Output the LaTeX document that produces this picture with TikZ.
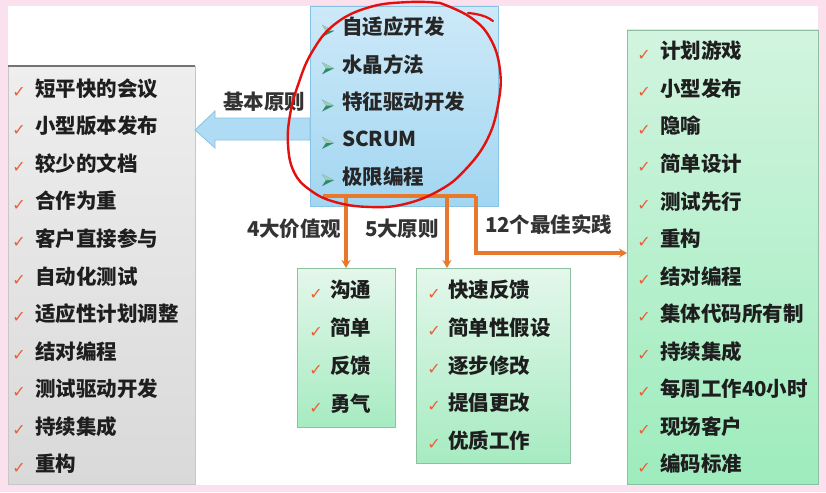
\documentclass[tikz,border=0pt]{standalone}
\usepackage{fontspec}
\setmainfont{Noto Sans CJK SC}
\newfontfamily\symfont{DejaVu Sans}
\usetikzlibrary{arrows.meta}
\definecolor{pinkbg}{HTML}{FBE1EE}
\definecolor{txt}{HTML}{1E1E1E}
\definecolor{chkc}{HTML}{E8603A}
\definecolor{orangec}{HTML}{E8782C}
\definecolor{redc}{HTML}{E31010}
\definecolor{bulletc}{HTML}{2E8A68}
\definecolor{blueT}{HTML}{CDE9F8}
\definecolor{blueB}{HTML}{A2D6F1}
\definecolor{blueD}{HTML}{86C3E4}
\definecolor{arrowF}{HTML}{AFDCF4}
\definecolor{greenT}{HTML}{E4F7EB}
\definecolor{greenB}{HTML}{A6EBC1}
\definecolor{greenD}{HTML}{8DBFA0}
\definecolor{rgreenT}{HTML}{D2F4DF}
\definecolor{rgreenB}{HTML}{9EECBD}
\definecolor{grayT}{HTML}{EEEEEE}
\definecolor{grayB}{HTML}{D9D9D9}
\begin{document}
\begin{tikzpicture}[x=1pt,y=-1pt,
  every node/.style={outer sep=0pt},
  item/.style={anchor=west, inner sep=0pt, text=txt,
    font=\fontsize{20.5}{24}\selectfont\bfseries, text height=0.9em, text depth=0.14em},
  lbl/.style={item, text=black!80},
  chk/.style={inner sep=0pt, text=chkc, font=\symfont\fontsize{16}{16}\selectfont},
  graybox/.style={anchor=north west, draw=black!22, top color=grayT, bottom color=grayB, inner sep=0pt},
  bluebox/.style={anchor=north west, draw=blueD, top color=blueT, bottom color=blueB, inner sep=0pt},
  greenbox/.style={anchor=north west, draw=greenD, top color=greenT, bottom color=greenB, inner sep=0pt},
  orangeline/.style={draw=orangec, line width=3.2pt},
  otip/.style={-{Stealth[length=8pt,width=9pt]}},
  bullet/.pic={\fill[bulletc] (-6,-6) -- (6,0) -- (-6,6) -- (-2,0) -- cycle;
               \fill[bulletc!45!white] (-6,-6) -- (6,0) -- (-2,0) -- cycle;}
]
\useasboundingbox (0,0) rectangle (826,492);
\fill[pinkbg] (0,0) rectangle (826,492);
\fill[white] (8,6) rectangle (818,485);

% boxes
\node[graybox, minimum width=187pt, minimum height=418pt] (L) at (8,66) {};
\draw[black!55, line width=1.2pt] (L.north west) -- (L.north east);
\node[bluebox, minimum width=188pt, minimum height=200pt] (C) at (310,6) {};
\node[greenbox, minimum width=98pt, minimum height=159pt] (B4) at (297,268) {};
\node[greenbox, minimum width=154pt, minimum height=195pt] (B5) at (416,268) {};
\node[greenbox, minimum width=191pt, minimum height=454pt,
      top color=rgreenT, bottom color=rgreenB] (R) at (627,30) {};

% blue block arrow
\draw[draw=blueD, line width=0.8pt, fill=arrowF]
  (195,130) -- (215,111) -- (215,118) -- (C.west |- 0,118) -- (C.west |- 0,140)
  -- (215,140) -- (215,148) -- cycle;
\node[lbl] (lb0) at (223,106) {基本原则};

% center list
\foreach \t [count=\i from 0] in {自适应开发,水晶方法,特征驱动开发,SCRUM,极限编程}{
  \pgfmathsetmacro\yy{31+37.3*\i}
  \pic at (328,\yy) {bullet};
  \node[item, text=black!85] (c\i) at (342,\yy) {\t};
}

% left list
\foreach \t [count=\i from 0] in {短平快的会议,小型版本发布,较少的文档,合作为重,客户直接参与,自动化测试,适应性计划调整,结对编程,测试驱动开发,持续集成,重构}{
  \pgfmathsetmacro\yy{92.5+37.55*\i}
  \node[chk] (lk\i) at (19,\yy) {✓};
  \node[item] (l\i) at (35,\yy) {\t};
}

% right list
\foreach \t [count=\i from 0] in {计划游戏,小型发布,隐喻,简单设计,测试先行,重构,结对编程,集体代码所有制,持续集成,每周工作40小时,现场客户,编码标准}{
  \pgfmathsetmacro\yy{55+37.55*\i}
  \node[chk] (rk\i) at (644,\yy) {✓};
  \node[item] (r\i) at (660,\yy) {\t};
}

% four values
\foreach \t [count=\i from 0] in {沟通,简单,反馈,勇气}{
  \pgfmathsetmacro\yy{294+38*\i}
  \node[chk] (fk\i) at (316,\yy) {✓};
  \node[item] (f\i) at (330,\yy) {\t};
}

% five principles
\foreach \t [count=\i from 0] in {快速反馈,简单性假设,逐步修改,提倡更改,优质工作}{
  \pgfmathsetmacro\yy{294+37.6*\i}
  \node[chk] (pk\i) at (434,\yy) {✓};
  \node[item] (p\i) at (448,\yy) {\t};
}

% orange connectors
\coordinate (busL) at (323,196);
\coordinate (busR) at (476,196);
\coordinate (d1) at (346,196);
\coordinate (d2) at (447,196);
\coordinate (c3) at (476,253);
\draw[orangeline] (busL) -- (busR);
\draw[orangeline, otip] (d1) -- (B4.north);
\draw[orangeline, otip] (d2) -- (d2 |- B5.north);
\draw[orangeline, otip] (busR) -- (c3) -- (c3 -| R.west);
\node[lbl] (lb1) at (247,233) {4大价值观};
\node[lbl] (lb2) at (365,233) {5大原则};
\node[lbl] (lb3) at (485,229) {12个最佳实践};

% red hand-drawn ellipse
\draw[redc, line width=2.4pt, line cap=round]
  plot[smooth, tension=0.7] coordinates {(440,3) (470,17) (490,38) (500,70) (498,105) (487,140)
   (465,170) (440,190) (405,204) (370,207) (335,202) (310,190) (294,172) (288,145) (290,115)
   (298,85) (312,52) (335,24) (370,7) (410,2) (440,3)};
\draw[redc, line width=2.2pt, line cap=round] (468,13) .. controls (480,14) and (488,17) .. (493,21);
\end{tikzpicture}
\end{document}
